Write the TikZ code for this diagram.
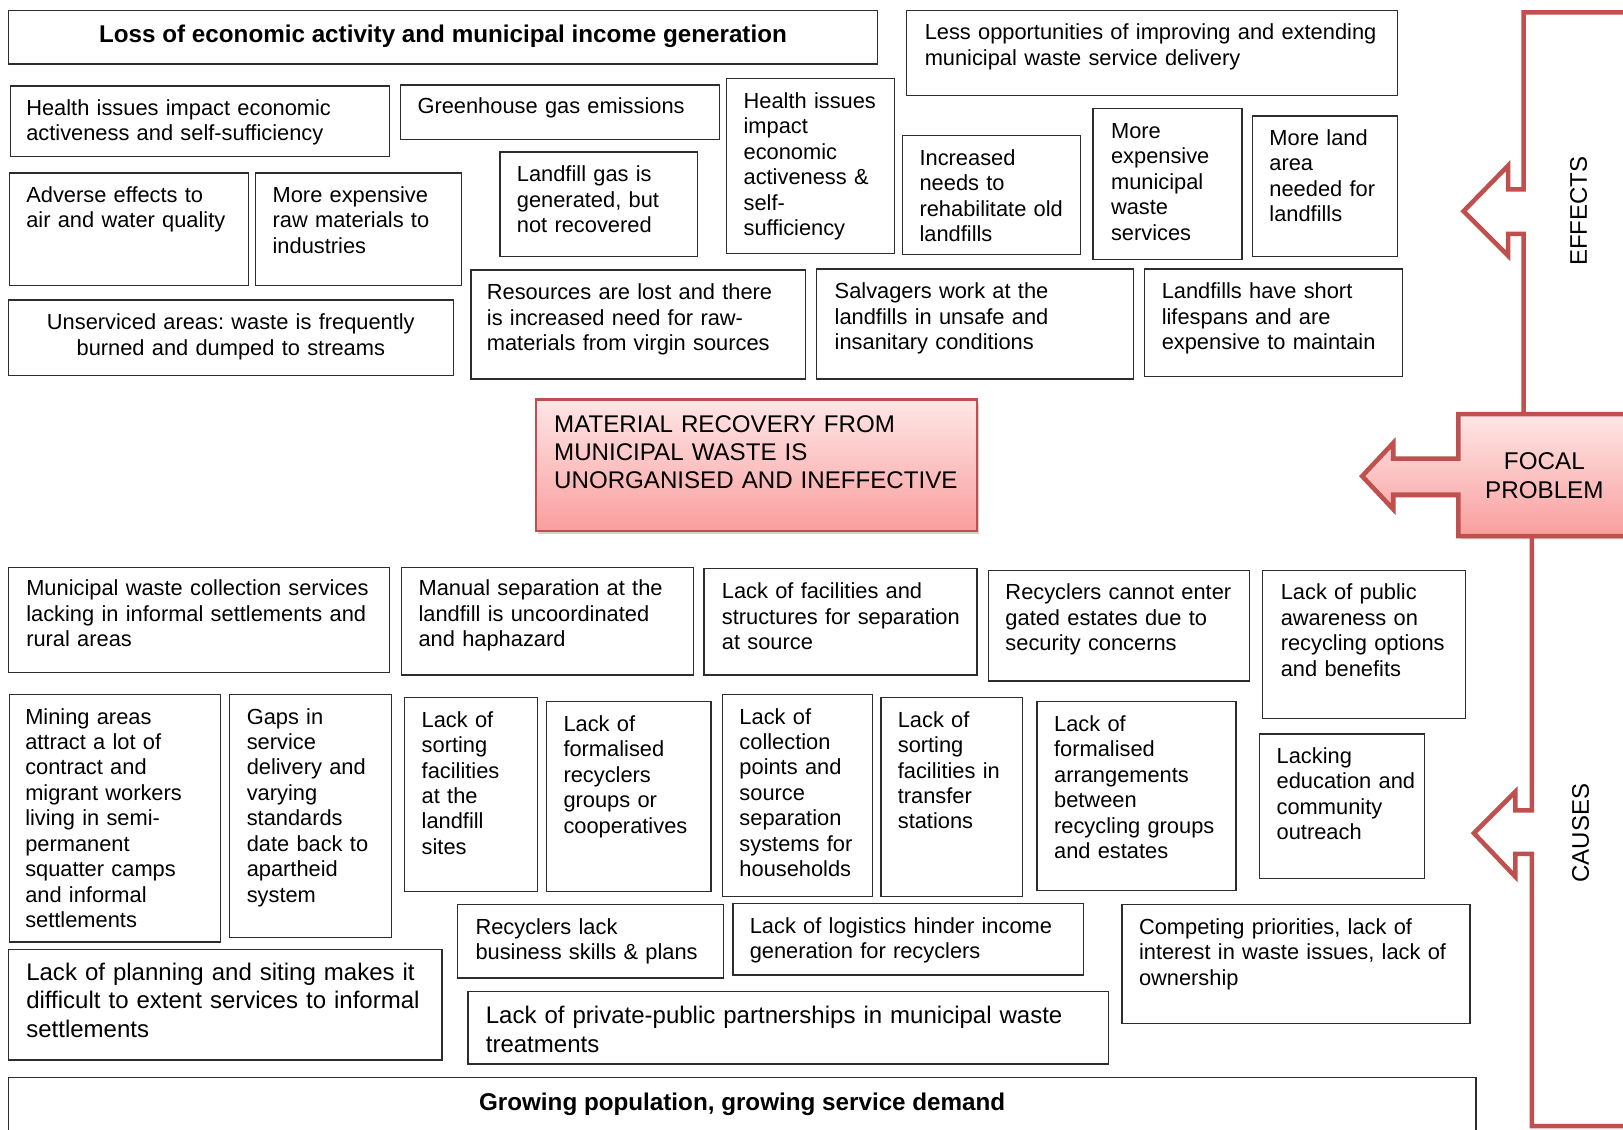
\documentclass[tikz,border=0pt]{standalone}
\usepackage{fontspec}
\setmainfont{Liberation Sans}
\usetikzlibrary{shadows}
\frenchspacing
\definecolor{redline}{RGB}{192,80,77}
\definecolor{pinktop}{RGB}{255,230,230}
\definecolor{pinkbot}{RGB}{249,158,158}
\definecolor{boxline}{RGB}{45,45,45}
\tikzset{
 box/.style={draw=boxline, line width=0.65pt, rectangle, inner sep=0pt, fill=white},
 txt/.style={inner sep=0pt, font=\fontsize{10.55}{12.3}\selectfont, text width=320pt, align=left, anchor=base west},
 bigtxt/.style={txt, font=\fontsize{11.6}{13.75}\selectfont, text width=340pt},
 ctxt/.style={inner sep=0pt, font=\fontsize{10.55}{12.3}\selectfont, text width=210pt, align=center, anchor=base},
 boldtxt/.style={inner sep=0pt, font=\bfseries\fontsize{11.7}{13.5}\selectfont, anchor=base, align=center},
 redpath/.style={draw=redline, line width=2.2pt, line join=miter},
 sidelabel/.style={inner sep=0pt, font=\fontsize{11.6}{14}\selectfont, align=center},
}
\newcommand\bx[9][txt]{%
 \node[box, minimum width={(#5-#3)*0.5pt}, minimum height={(#6-#4)*0.5pt}] (#2) at ({(#3+#5)/2},{(#4+#6)/2}) {};
 \node[#1] (#2t) at (#7,#8+1) {#9};}
\begin{document}
\begin{tikzpicture}[x=0.5pt,y=-0.5pt]
\useasboundingbox (0,0) rectangle (1568,1091);
\fill[white] (0,0) rectangle (1568,1091);

% ---------- EFFECTS ----------
\bx[boldtxt]{loss}{8}{10}{848}{62}{428}{40}{Loss of economic activity and municipal income generation}
\bx{lessopp}{876}{10}{1350}{92}{893}{37.5}{Less opportunities of improving and extending\\municipal waste service delivery}
\bx{healthA}{10}{83}{376}{151}{25}{110.5}{Health issues impact economic\\activeness and self-sufficiency}
\bx{ghg}{387}{82}{695}{135}{403}{108.5}{Greenhouse gas emissions}
\bx{healthB}{702}{76}{864}{245}{718}{103.5}{Health issues\\impact\\economic\\activeness \&\\self-\\sufficiency}
\bx{lfgas}{483}{147}{674}{248}{499}{174.5}{Landfill gas is\\generated, but\\not recovered}
\bx{adverse}{9}{167}{240}{276}{25}{194.5}{Adverse effects to\\air and water quality}
\bx{rawmat}{247}{167}{446}{276}{263}{194.5}{More expensive\\raw materials to\\industries}
\bx[ctxt]{unserv}{8}{290}{438}{363}{223}{317.5}{Unserviced areas: waste is frequently\\burned and dumped to streams}
\bx{resources}{455}{261}{778}{366}{470}{288.5}{Resources are lost and there\\is increased need for raw-\\materials from virgin sources}
\bx{salvagers}{789}{260}{1095}{366}{806}{287.5}{Salvagers work at the\\landfills in unsafe and\\insanitary conditions}
\bx{lifespan}{1106}{260}{1355}{364}{1122}{287.5}{Landfills have short\\lifespans and are\\expensive to maintain}
\bx{rehab}{872}{131}{1044}{246}{888}{158.5}{Increased\\needs to\\rehabilitate old\\landfills}
\bx{expserv}{1056}{105}{1200}{251}{1073}{132.5}{More\\expensive\\municipal\\waste\\services}
\bx{moreland}{1210}{112}{1350}{248}{1226}{139.5}{More land\\area\\needed for\\landfills}

% ---------- FOCAL ----------
\node[draw=redline, line width=1.1pt, top color=pinktop, bottom color=pinkbot, inner sep=0pt,
      minimum width={426*0.5pt}, minimum height={127*0.5pt},
      drop shadow={shadow xshift=1pt, shadow yshift=-1.5pt, opacity=0.35}] (focal) at (731,449.5) {};
\node[inner sep=0pt, font=\fontsize{11.65}{13.5}\selectfont, text width=260pt, align=left, anchor=base west]
      (focalt) at (535,418) {MATERIAL RECOVERY FROM\\MUNICIPAL WASTE IS\\UNORGANISED AND INEFFECTIVE};

% ---------- CAUSES ----------
\bx{collect}{8}{548}{376}{650}{25}{574.5}{Municipal waste collection services\\lacking in informal settlements and\\rural areas}
\bx{manual}{388}{548}{670}{652}{404}{574.5}{Manual separation at the\\landfill is uncoordinated\\and haphazard}
\bx{facil}{680}{549}{944}{652}{697}{577.5}{Lack of facilities and\\structures for separation\\at source}
\bx{gated}{955}{551}{1207}{658}{971}{578.5}{Recyclers cannot enter\\gated estates due to\\security concerns}
\bx{awareness}{1220}{551}{1416}{694}{1237}{578.5}{Lack of public\\awareness on\\recycling options\\and benefits}
\bx{mining}{9}{671}{213}{910}{24}{698.5}{Mining areas\\attract a lot of\\contract and\\migrant workers\\living in semi-\\permanent\\squatter camps\\and informal\\settlements}
\bx{gaps}{222}{671}{378}{906}{238}{698.5}{Gaps in\\service\\delivery and\\varying\\standards\\date back to\\apartheid\\system}
\bx{sortlf}{391}{674}{519}{861}{407}{701.5}{Lack of\\sorting\\facilities\\at the\\landfill\\sites}
\bx{formrec}{528}{678}{687}{861}{544}{705.5}{Lack of\\formalised\\recyclers\\groups or\\cooperatives}
\bx{collpts}{698}{671}{843}{866}{714}{698.5}{Lack of\\collection\\points and\\source\\separation\\systems for\\households}
\bx{sorttr}{851}{674}{988}{866}{867}{701.5}{Lack of\\sorting\\facilities in\\transfer\\stations}
\bx{formarr}{1002}{678}{1194}{860}{1018}{705.5}{Lack of\\formalised\\arrangements\\between\\recycling groups\\and estates}
\bx{educ}{1217}{709}{1376}{849}{1233}{736.5}{Lacking\\education and\\community\\outreach}
\bx{bizskills}{442}{874}{699}{945}{459}{901.5}{Recyclers lack\\business skills \& plans}
\bx{logistics}{708}{873}{1047}{942}{724}{900.5}{Lack of logistics hinder income\\generation for recyclers}
\bx{competing}{1084}{874}{1420}{989}{1100}{901.5}{Competing priorities, lack of\\interest in waste issues, lack of\\ownership}
\bx[bigtxt]{planning}{8}{917}{427}{1024}{25}{946}{Lack of planning and siting makes it\\difficult to extent services to informal\\settlements}
\bx[bigtxt]{ppp}{452}{958}{1071}{1028}{469}{988}{Lack of private-public partnerships in municipal waste\\treatments}
\bx[boldtxt]{growing}{8}{1041}{1426}{1110}{717}{1072}{Growing population, growing service demand}

% ---------- RIGHT-HAND FRAME ----------
\coordinate (etop) at (1590,12);
\coordinate (ebot) at (1472,400);
\draw[redpath] (etop) -- (1472,12) -- (1472,183) -- (1457,183) -- (1457,160) -- (1414,204)
      -- (1457,247) -- (1457,226) -- (1472,226) -- (ebot);
\path[draw=redline, line width=2.2pt, line join=miter, top color=pinktop, bottom color=pinkbot,
      drop shadow={shadow xshift=1pt, shadow yshift=-1.5pt, opacity=0.3}]
      (1600,400) -- (1409,400) -- (1409,443) -- (1346,443) -- (1346,428) -- (1316,460)
      -- (1346,492) -- (1346,478) -- (1409,478) -- (1409,518) -- (1600,518);
\coordinate (ctop) at (1480,518);
\coordinate (cbot) at (1590,1088);
\draw[redpath] (ctop) -- (1480,783) -- (1464,783) -- (1464,765) -- (1424,805) -- (1464,847)
      -- (1464,825) -- (1480,825) -- (1480,1088) -- (cbot);
\node[sidelabel, rotate=90] (effects) at (1525,204) {EFFECTS};
\node[sidelabel, rotate=90] (causes) at (1527,805) {CAUSES};
\node[sidelabel, font=\fontsize{11.7}{14}\selectfont] (focallab) at (1492,460) {FOCAL\\PROBLEM};
\end{tikzpicture}
\end{document}
